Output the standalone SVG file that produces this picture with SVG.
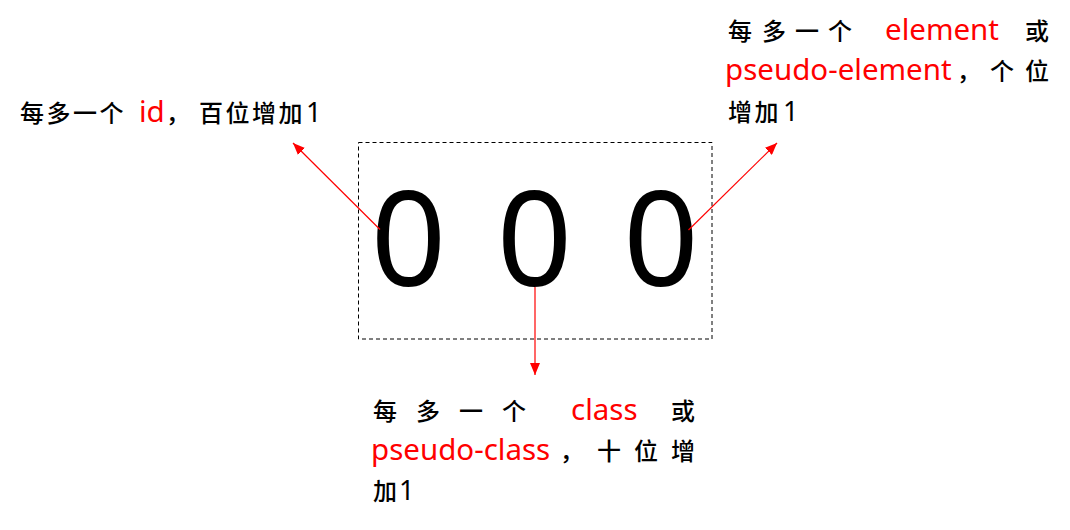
<svg xmlns="http://www.w3.org/2000/svg" width="1070" height="530" viewBox="0 0 1070 530">
<style>
text{font-family:"Noto Sans CJK SC","Noto Sans",sans-serif;font-size:24px;font-weight:500;fill:#000}
.r{fill:#ff0000;font-family:"Noto Sans","Noto Sans CJK SC",sans-serif;font-size:29.5px;font-weight:400}
.d{font-family:"Noto Sans","Noto Sans CJK SC",sans-serif;font-size:27px;font-weight:400}
.zero{font-family:"Noto Sans","Noto Sans CJK SC",sans-serif;font-size:132px;font-weight:400;text-anchor:middle}
.ls{letter-spacing:2.5px}
.conn line{stroke:#ff0000;stroke-width:1.2}
</style>
<defs>
<marker id="ah" viewBox="0 0 12 10" refX="12" refY="5" markerWidth="12" markerHeight="10" markerUnits="userSpaceOnUse" orient="auto">
<path d="M0,0 L12,5 L0,10 z" fill="#ff0000"/>
</marker>
</defs>
<g id="box">
<rect x="358.5" y="142.5" width="353.5" height="196.5" fill="none" stroke="#000" stroke-width="1" stroke-dasharray="4,3"/>
<text class="zero" x="408.5" y="286">0</text>
<text class="zero" x="534.5" y="286">0</text>
<text class="zero" x="661" y="286">0</text>
</g>
<g class="conn" id="connectors">
<line x1="380" y1="229.5" x2="293" y2="143" marker-end="url(#ah)"/>
<line x1="688.5" y1="230" x2="777" y2="143" marker-end="url(#ah)"/>
<line x1="535" y1="287" x2="535" y2="375" marker-end="url(#ah)"/>
</g>
<g id="label-id">
<text y="122"><tspan x="20" class="ls">每多一个</tspan><tspan x="139" class="r">id</tspan><tspan x="166">，</tspan><tspan x="199" class="ls">百位增加</tspan><tspan x="306" class="d">1</tspan></text>
</g>
<g id="label-element">
<text y="40"><tspan x="728">每</tspan><tspan x="762">多</tspan><tspan x="795">一</tspan><tspan x="828">个</tspan><tspan x="885" class="r">element</tspan><tspan x="1025">或</tspan></text>
<text y="80"><tspan x="725" class="r">pseudo-element</tspan><tspan x="957">，</tspan><tspan x="990">个</tspan><tspan x="1025">位</tspan></text>
<text y="121"><tspan x="728" class="ls">增加</tspan><tspan x="783" class="d">1</tspan></text>
</g>
<g id="label-class">
<text y="420"><tspan x="373">每</tspan><tspan x="416">多</tspan><tspan x="459">一</tspan><tspan x="502">个</tspan><tspan x="571" class="r">class</tspan><tspan x="671">或</tspan></text>
<text y="460"><tspan x="371" class="r">pseudo-class</tspan><tspan x="560">，</tspan><tspan x="597">十</tspan><tspan x="634">位</tspan><tspan x="671">增</tspan></text>
<text y="500"><tspan x="373">加</tspan><tspan x="399" class="d">1</tspan></text>
</g>
</svg>
